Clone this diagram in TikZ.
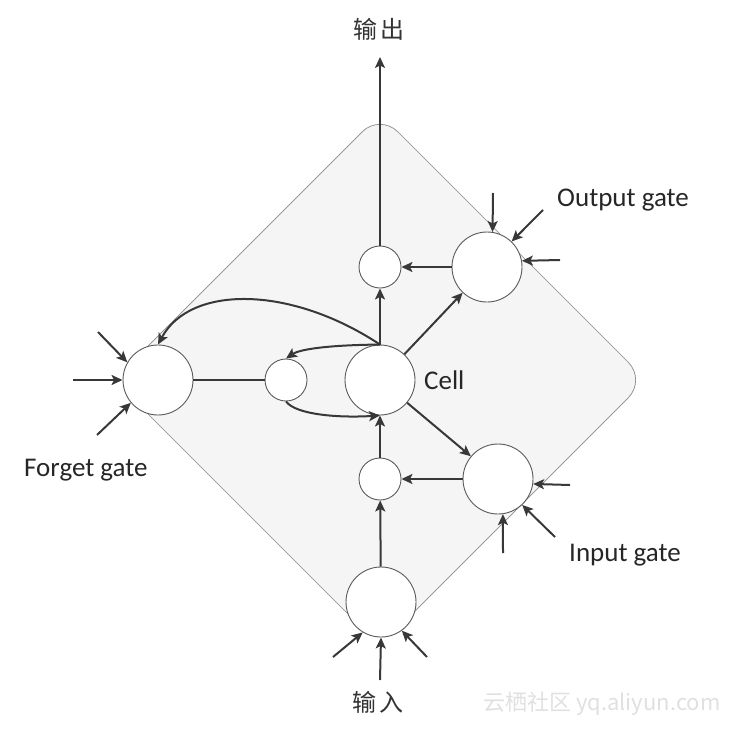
\documentclass[tikz,border=0pt]{standalone}
\usepackage{fontspec}
\setmainfont{Carlito}
\newfontfamily\cjk{Noto Sans CJK SC}
\usetikzlibrary{arrows.meta}
\definecolor{lin}{HTML}{383838}
\definecolor{circ}{HTML}{5A5A5A}
\definecolor{dia}{HTML}{8A8A8A}
\definecolor{diafill}{HTML}{F5F5F5}
\tikzset{
  bigc/.style={circle, draw=circ, line width=0.9pt, fill=white, minimum size=70pt, inner sep=0pt},
  smallc/.style={circle, draw=circ, line width=0.9pt, fill=white, minimum size=42pt, inner sep=0pt},
  arr/.style={draw=lin, line width=2pt, -{Stealth[length=11pt,width=10pt,inset=2.5pt]}},
  plain/.style={draw=lin, line width=2pt},
  lab/.style={font=\fontsize{27}{32}\selectfont, text=black!85, inner sep=0pt},
  cjklab/.style={font=\cjk\fontsize{24}{28}\selectfont, text=black!80, inner sep=0pt},
}
\begin{document}
\begin{tikzpicture}[x=1pt,y=-1pt]
\useasboundingbox (0,0) rectangle (736,728);
% diamond
\draw[draw=dia, line width=0.7pt, fill=diafill, rounded corners=25pt]
  (380,114) -- (646,380) -- (380,646) -- (114,380) -- cycle;
% nodes
\node[bigc] (cell) at (380,380) {};
\node[bigc] (fg) at (158,380) {};
\node[bigc] (og) at (487,267) {};
\node[bigc] (ig) at (498,479) {};
\node[bigc] (in) at (381,602) {};
\node[smallc] (st) at (380,267) {};
\node[smallc] (sb) at (380,479) {};
\node[smallc] (sl) at (286,380) {};
% labels
\node[cjklab] (outlab) at (379,29) {输\,出};
\node[cjklab] (inlab) at (378,702) {输\,入};
\node[lab, anchor=west] (oglab) at (557,200) {Output gate};
\node[lab, anchor=west] (celllab) at (424,380) {Cell};
\node[lab, anchor=west] (fglab) at (24,470) {Forget gate};
\node[lab, anchor=west] (iglab) at (569,555) {Input gate};
\node[font=\cjk\fontsize{22}{26}\selectfont, text=black!12, anchor=west, inner sep=0pt] (wm) at (483,704) {云栖社区\ yq.aliyun.com};
% coordinates
\coordinate (top) at (380,57);
\coordinate (fgA) at (98,332);
\coordinate (fgB) at (73,380);
\coordinate (fgC) at (97,435);
\coordinate (ogA) at (493,193);
\coordinate (ogB) at (543,210);
\coordinate (ogC) at (560,260);
\coordinate (igA) at (570,485);
\coordinate (igB) at (555,537);
\coordinate (igC) at (503,553);
\coordinate (inA) at (333,657);
\coordinate (inB) at (380,680);
\coordinate (inC) at (427,657);
% internal connectors
\draw[arr] (in) -- (sb);
\draw[arr] (sb) -- (cell);
\draw[arr] (ig) -- (sb);
\draw[arr] (cell) -- (ig);
\draw[arr] (cell) -- (og);
\draw[arr] (og) -- (st);
\draw[arr] (cell) -- (st);
\draw[arr] (st) -- (top);
\draw[plain] (fg) -- (sl);
\draw[arr] (cell.north) .. controls (290,285) and (190,285) .. (fg.north);
\draw[arr] (cell.north) .. controls (330,345) and (300,349) .. (sl.north);
\draw[arr] (sl.south) .. controls (296,415) and (340,418) .. (cell.south);
% external inputs
\draw[arr] (fgA) -- (fg.150);
\draw[arr] (fgB) -- (fg.west);
\draw[arr] (fgC) -- (fg.220);
\draw[arr] (ogA) -- (og.81);
\draw[arr] (ogB) -- (og.46);
\draw[arr] (ogC) -- (og.10);
\draw[arr] (igA) -- (ig.-8);
\draw[arr] (igB) -- (ig.-47);
\draw[arr] (igC) -- (ig.-82);
\draw[arr] (inA) -- (in.239);
\draw[arr] (inB) -- (in.south);
\draw[arr] (inC) -- (in.306);
\end{tikzpicture}
\end{document}
